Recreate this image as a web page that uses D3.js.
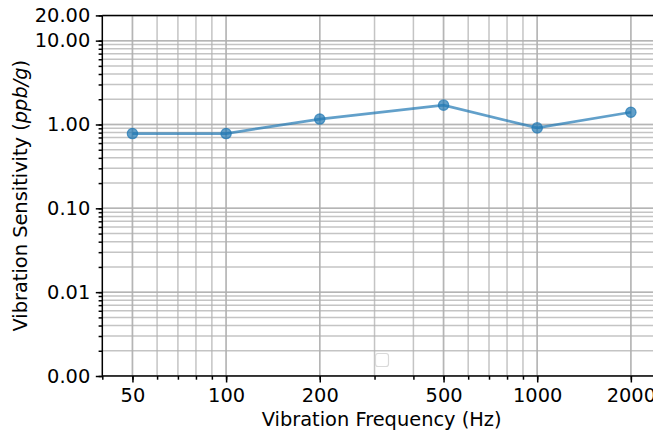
<!DOCTYPE html>
<meta charset="utf-8">
<script src="https://d3js.org/d3.v7.min.js"></script>
<style>
  body { margin: 0; background: #fff; }
  text { font-family: "DejaVu Sans", sans-serif; }
</style>
<svg id="chart" width="653" height="431"></svg>
<script>

// values
var freqs = [50, 100, 200, 500, 1000, 2000];
var sensitivity = [0.78, 0.78, 1.16, 1.70, 0.91, 1.40];
var xTicks = [50, 100, 200, 500, 1000, 2000];
var xTickLabels = ["50", "100", "200", "500", "1000", "2000"];
var yTicks = [0.001, 0.01, 0.1, 1, 10, 20];
var yTickLabels = ["0.00", "0.01", "0.10", "1.00", "10.00", "20.00"];
var xDomain = [40, 2500];
var yDomain = [0.001, 20];

var margin = {top: 15.4, left: 102.3, bottom: 376, right: 661};
var fontSize = "19.4px";
var svg = d3.select("#chart");

var x = d3.scaleLog().domain(xDomain).range([margin.left, margin.right]);
var y = d3.scaleLog().domain(yDomain).range([margin.bottom, margin.top]);

// minor positions 1..9 x decade, like a log locator
function logSteps(lo, hi) {
  var out = [];
  for (var e = Math.floor(Math.log10(lo)); e <= Math.ceil(Math.log10(hi)); e++) {
    for (var m = 1; m < 10; m++) {
      var v = m * Math.pow(10, e);
      if (v >= lo * 0.9999 && v <= hi * 1.0001) out.push(v);
    }
  }
  return out;
}
var xMinor = logSteps(xDomain[0], xDomain[1]);
var yMinor = logSteps(yDomain[0], yDomain[1]);
var xGrid = xMinor.concat(xTicks);
var yGrid = yMinor.concat(yTicks);

svg.append("defs").append("clipPath").attr("id", "clip")
  .append("rect")
  .attr("x", margin.left).attr("y", margin.top)
  .attr("width", margin.right - margin.left)
  .attr("height", margin.bottom - margin.top);

var grid = svg.append("g").attr("clip-path", "url(#clip)");
grid.selectAll(".vg").data(xGrid).enter().append("line")
  .attr("x1", function(d) { return x(d); }).attr("x2", function(d) { return x(d); })
  .attr("y1", margin.top).attr("y2", margin.bottom)
  .attr("stroke", "#b0b0b0").attr("stroke-opacity", 0.75).attr("stroke-width", 1.5);
grid.selectAll(".hg").data(yGrid).enter().append("line")
  .attr("y1", function(d) { return y(d); }).attr("y2", function(d) { return y(d); })
  .attr("x1", margin.left).attr("x2", margin.right)
  .attr("stroke", "#b0b0b0").attr("stroke-opacity", 0.75).attr("stroke-width", 1.5);

// axes
var xMinorAxis = svg.append("g").attr("transform", "translate(0," + margin.bottom + ")")
  .call(d3.axisBottom(x).tickValues(xMinor).tickSize(3.7).tickFormat(""));
var xAxis = svg.append("g").attr("transform", "translate(0," + margin.bottom + ")")
  .call(d3.axisBottom(x).tickValues(xTicks).tickSize(6.5).tickPadding(5.5)
    .tickFormat(function(d, i) { return xTickLabels[i]; }));
var yMinorAxis = svg.append("g").attr("transform", "translate(" + margin.left + ",0)")
  .call(d3.axisLeft(y).tickValues(yMinor).tickSize(3.7).tickFormat(""));
var yAxis = svg.append("g").attr("transform", "translate(" + margin.left + ",0)")
  .call(d3.axisLeft(y).tickValues(yTicks).tickSize(6.5).tickPadding(5.5)
    .tickFormat(function(d, i) { return yTickLabels[i]; }));

[xMinorAxis, xAxis, yMinorAxis, yAxis].forEach(function(a) {
  a.select(".domain").remove();
  a.selectAll(".tick line").attr("stroke", "#000").attr("stroke-width", 1.5);
  a.selectAll(".tick text").attr("fill", "#000")
    .style("font-size", fontSize).style("font-family", "DejaVu Sans, sans-serif");
});

// spines: left, bottom, top (right edge falls outside the picture)
svg.append("line").attr("x1", margin.left).attr("x2", margin.left)
  .attr("y1", margin.top).attr("y2", margin.bottom).attr("stroke", "#000").attr("stroke-width", 1.5);
svg.append("line").attr("x1", margin.left).attr("x2", margin.right)
  .attr("y1", margin.bottom).attr("y2", margin.bottom).attr("stroke", "#000").attr("stroke-width", 1.5);
svg.append("line").attr("x1", margin.left).attr("x2", margin.right)
  .attr("y1", margin.top).attr("y2", margin.top).attr("stroke", "#000").attr("stroke-width", 1.5);

// series
var data = freqs.map(function(f, i) { return {f: f, v: sensitivity[i]}; });
svg.append("path").datum(data)
  .attr("fill", "none").attr("stroke", "#1f77b4").attr("stroke-opacity", 0.7)
  .attr("stroke-width", 2.7)
  .attr("d", d3.line().x(function(d) { return x(d.f); }).y(function(d) { return y(d.v); }));
svg.selectAll(".pt").data(data).enter().append("circle")
  .attr("cx", function(d) { return x(d.f); })
  .attr("cy", function(d) { return y(d.v); })
  .attr("r", 5.2)
  .attr("fill", "#1f77b4").attr("fill-opacity", 0.7)
  .attr("stroke", "#1f77b4").attr("stroke-opacity", 0.7).attr("stroke-width", 1.2);

// empty legend box
svg.append("rect").attr("x", 375.5).attr("y", 353.5).attr("width", 13).attr("height", 13)
  .attr("rx", 2.5).attr("fill", "#fff").attr("fill-opacity", 0.8)
  .attr("stroke", "#d9d9d9").attr("stroke-width", 1.2);

// axis labels
svg.append("text")
  .attr("x", (margin.left + margin.right) / 2).attr("y", 425.5)
  .attr("text-anchor", "middle").style("font-size", fontSize)
  .text("Vibration Frequency (Hz)");

var yl = svg.append("text")
  .attr("transform", "translate(26.5," + ((margin.top + margin.bottom) / 2) + ") rotate(-90)")
  .attr("text-anchor", "middle").style("font-size", fontSize);
yl.append("tspan").text("Vibration Sensitivity (");
yl.append("tspan").style("font-style", "italic").text("ppb/g");
yl.append("tspan").text(")");

</script>
